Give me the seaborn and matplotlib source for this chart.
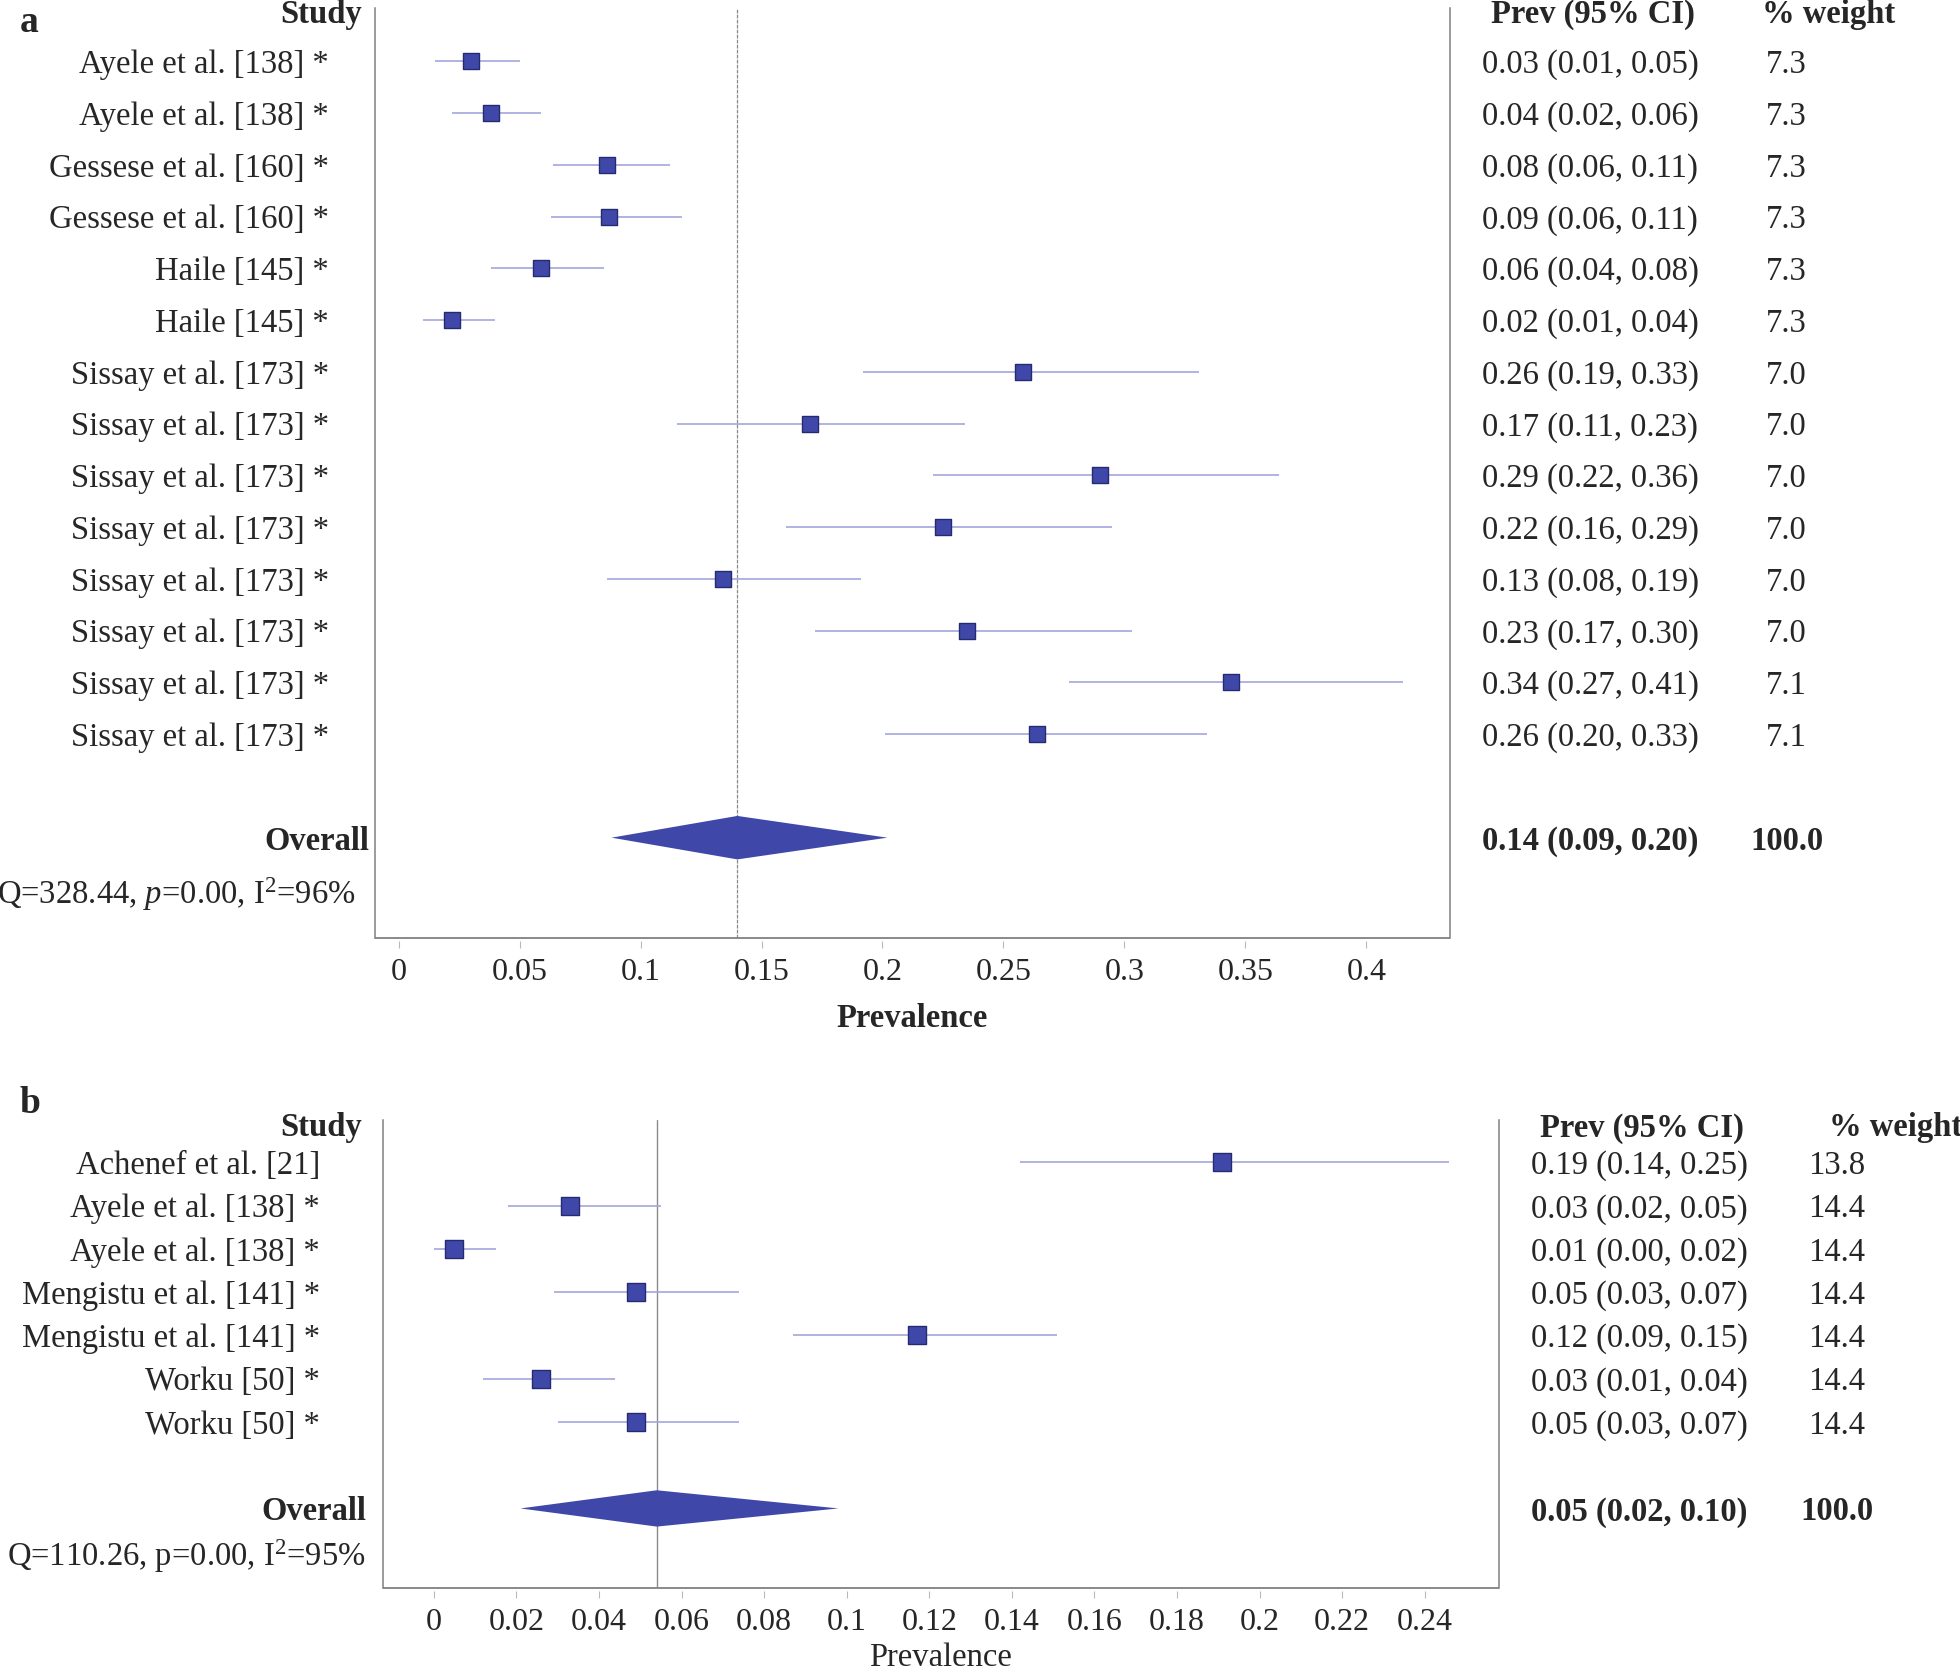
import numpy as np
import pandas as pd
import seaborn as sns
import matplotlib
matplotlib.use("Agg")
import matplotlib.pyplot as plt
from matplotlib.ticker import FuncFormatter

# ---- panel a ----
studies_a = ["Ayele et al. [138] *", "Ayele et al. [138] *",
             "Gessese et al. [160] *", "Gessese et al. [160] *",
             "Haile [145] *", "Haile [145] *"] + ["Sissay et al. [173] *"] * 8
est_a = [0.030, 0.038, 0.086, 0.087, 0.059, 0.022, 0.258, 0.170, 0.290, 0.225, 0.134, 0.235, 0.344, 0.264]
lo_a = [0.015, 0.022, 0.064, 0.063, 0.038, 0.010, 0.192, 0.115, 0.221, 0.160, 0.086, 0.172, 0.277, 0.201]
hi_a = [0.050, 0.059, 0.112, 0.117, 0.085, 0.040, 0.331, 0.234, 0.364, 0.295, 0.191, 0.303, 0.415, 0.334]
ci_txt_a = ["0.03 (0.01, 0.05)", "0.04 (0.02, 0.06)", "0.08 (0.06, 0.11)", "0.09 (0.06, 0.11)",
            "0.06 (0.04, 0.08)", "0.02 (0.01, 0.04)", "0.26 (0.19, 0.33)", "0.17 (0.11, 0.23)",
            "0.29 (0.22, 0.36)", "0.22 (0.16, 0.29)", "0.13 (0.08, 0.19)", "0.23 (0.17, 0.30)",
            "0.34 (0.27, 0.41)", "0.26 (0.20, 0.33)"]
weight_a = ["7.3"] * 6 + ["7.0"] * 6 + ["7.1"] * 2
overall_a = (0.140, 0.088, 0.202)
overall_txt_a = "0.14 (0.09, 0.20)"
q_txt_a = r"Q=328.44, $\mathit{p}$=0.00, I$^{2}$=96%"
ticks_a = [0, 0.05, 0.1, 0.15, 0.2, 0.25, 0.3, 0.35, 0.4]

# ---- panel b ----
studies_b = ["Achenef et al. [21]", "Ayele et al. [138] *", "Ayele et al. [138] *",
             "Mengistu et al. [141] *", "Mengistu et al. [141] *", "Worku [50] *", "Worku [50] *"]
est_b = [0.191, 0.033, 0.005, 0.049, 0.117, 0.026, 0.049]
lo_b = [0.142, 0.018, 0.000, 0.029, 0.087, 0.012, 0.030]
hi_b = [0.246, 0.055, 0.015, 0.074, 0.151, 0.044, 0.074]
ci_txt_b = ["0.19 (0.14, 0.25)", "0.03 (0.02, 0.05)", "0.01 (0.00, 0.02)", "0.05 (0.03, 0.07)",
            "0.12 (0.09, 0.15)", "0.03 (0.01, 0.04)", "0.05 (0.03, 0.07)"]
weight_b = ["13.8"] + ["14.4"] * 6
overall_b = (0.054, 0.021, 0.098)
overall_txt_b = "0.05 (0.02, 0.10)"
q_txt_b = r"Q=110.26, p=0.00, I$^{2}$=95%"
ticks_b = [0, 0.02, 0.04, 0.06, 0.08, 0.1, 0.12, 0.14, 0.16, 0.18, 0.2, 0.22, 0.24]

sns.set_theme(style="white")
plt.rcParams['font.family'] = ['Liberation Serif', 'DejaVu Serif']
plt.rcParams['mathtext.fontset'] = 'custom'
plt.rcParams['mathtext.rm'] = 'Liberation Serif'
plt.rcParams['mathtext.it'] = 'Liberation Serif:italic'

FS = 23.5
SQ = "#3f48a8"
SQ_EDGE = "#262b70"
CI_COL = "#a3a6db"
SPINE = "#808080"
VA = "center_baseline"


def draw_panel(ax, studies, est, lo, hi, ci_txt, weights, overall, overall_txt, q_txt,
               ticks, xlim, ylim_pad, msize, pos, xlabel_bold, vline_style):
    n = len(studies)
    df = pd.DataFrame({"study": studies, "est": est, "lo": lo, "hi": hi, "row": np.arange(n)})
    ax.hlines(df["row"], df["lo"], df["hi"], color=CI_COL, lw=1.2, zorder=2)
    sns.scatterplot(data=df, x="est", y="row", marker="s", s=msize, color=SQ,
                    edgecolor=SQ_EDGE, linewidth=1.0, ax=ax, zorder=3, legend=False)
    est_o, lo_o, hi_o = overall
    r_o = n + 1
    h = 0.42
    ax.axvline(est_o, zorder=1, **vline_style)
    ax.fill([lo_o, est_o, hi_o, est_o], [r_o, r_o - h, r_o, r_o + h], color=SQ, lw=0, zorder=3)

    ax.set_xlim(*xlim)
    ax.set_ylim(n + ylim_pad[1], ylim_pad[0])
    ax.set_yticks([])
    ax.set_ylabel("")
    ax.set_xticks(ticks)
    ax.xaxis.set_major_formatter(FuncFormatter(lambda v, p: "{:g}".format(v)))
    ax.tick_params(axis="x", bottom=True, length=5, width=0.8, color="#b8b8b8",
                   labelsize=23, pad=7, direction="out")
    ax.set_xlabel("Prevalence", fontsize=FS, fontweight="bold" if xlabel_bold else "normal",
                  labelpad=pos["labelpad"])

    for s in ["left", "right"]:
        ax.spines[s].set_color(SPINE)
        ax.spines[s].set_linewidth(1.1)
    ax.spines["top"].set_visible(False)
    ax.spines["bottom"].set_visible(False)
    ax.spines["bottom"].set_position(("outward", 2.5))
    ax.plot([0, 1], [0, 0], transform=ax.transAxes, color=SPINE, lw=1.3,
            clip_on=False, solid_capstyle="butt")

    tr = ax.get_yaxis_transform()  # x in axes fraction, y in data
    for i in range(n):
        ax.text(pos["label_x"], i, studies[i], transform=tr, ha="right", va=VA, fontsize=FS)
        ax.text(pos["ci_x"], i, ci_txt[i], transform=tr, ha="left", va=VA, fontsize=FS)
        ax.text(pos["w_x"], i, weights[i], transform=tr, ha="left", va=VA, fontsize=FS)
    hy = pos["hdr_y"]
    ax.text(pos["study_hdr_x"], hy, "Study", transform=tr, ha="right", va=VA,
            fontsize=FS, fontweight="bold")
    ax.text(pos["ci_hdr_x"], hy, "Prev (95% CI)", transform=tr, ha="left", va=VA,
            fontsize=FS, fontweight="bold")
    ax.text(pos["w_hdr_x"], hy, "% weight", transform=tr, ha="left", va=VA,
            fontsize=FS, fontweight="bold")
    ax.text(pos["overall_x"], r_o, "Overall", transform=tr, ha="right", va=VA,
            fontsize=FS, fontweight="bold")
    ax.text(pos["ci_x"], r_o, overall_txt, transform=tr, ha="left", va=VA,
            fontsize=FS, fontweight="bold")
    ax.text(pos["w_o_x"], r_o, "100.0", transform=tr, ha="left", va=VA,
            fontsize=FS, fontweight="bold")
    ax.text(pos["q_x"], r_o + 1, q_txt, transform=tr, ha="right", va=VA, fontsize=FS)


fig = plt.figure(figsize=(19.6, 16.76), dpi=100)
ax_a = fig.add_axes([0.1913, 0.4406, 0.5485, 0.5546])
ax_b = fig.add_axes([0.1952, 0.0525, 0.5696, 0.2792])

draw_panel(ax_a, studies_a, est_a, lo_a, hi_a, ci_txt_a, weight_a, overall_a, overall_txt_a, q_txt_a,
           ticks_a, (-0.0098, 0.4346), (-1.03, 2.93), 135,
           dict(label_x=-0.043, study_hdr_x=-0.0116, overall_x=-0.0056, q_x=-0.0177,
                ci_x=1.030, ci_hdr_x=1.038, w_x=1.294, w_hdr_x=1.290, w_o_x=1.279,
                hdr_y=-0.97, labelpad=12),
           True, dict(color="#8a8a8a", lw=0.9, ls=(0, (3, 1))))

draw_panel(ax_b, studies_b, est_b, lo_b, hi_b, ci_txt_b, weight_b, overall_b, overall_txt_b, q_txt_b,
           ticks_b, (-0.0124, 0.258), (-0.98, 2.84), 185,
           dict(label_x=-0.056, study_hdr_x=-0.018, overall_x=-0.0148, q_x=-0.0148,
                ci_x=1.0287, ci_hdr_x=1.0367, w_x=1.2768, w_hdr_x=1.2955, w_o_x=1.270,
                hdr_y=-0.88, labelpad=4),
           False, dict(color="#8a8a8a", lw=1.0, ls="-"))

fig.text(20 / 1960, 1 - 32 / 1676, "a", fontsize=27, fontweight="bold", va="baseline")
fig.text(20 / 1960, 1 - 1113 / 1676, "b", fontsize=27, fontweight="bold", va="baseline")

fig.savefig("out.png", dpi=100)
